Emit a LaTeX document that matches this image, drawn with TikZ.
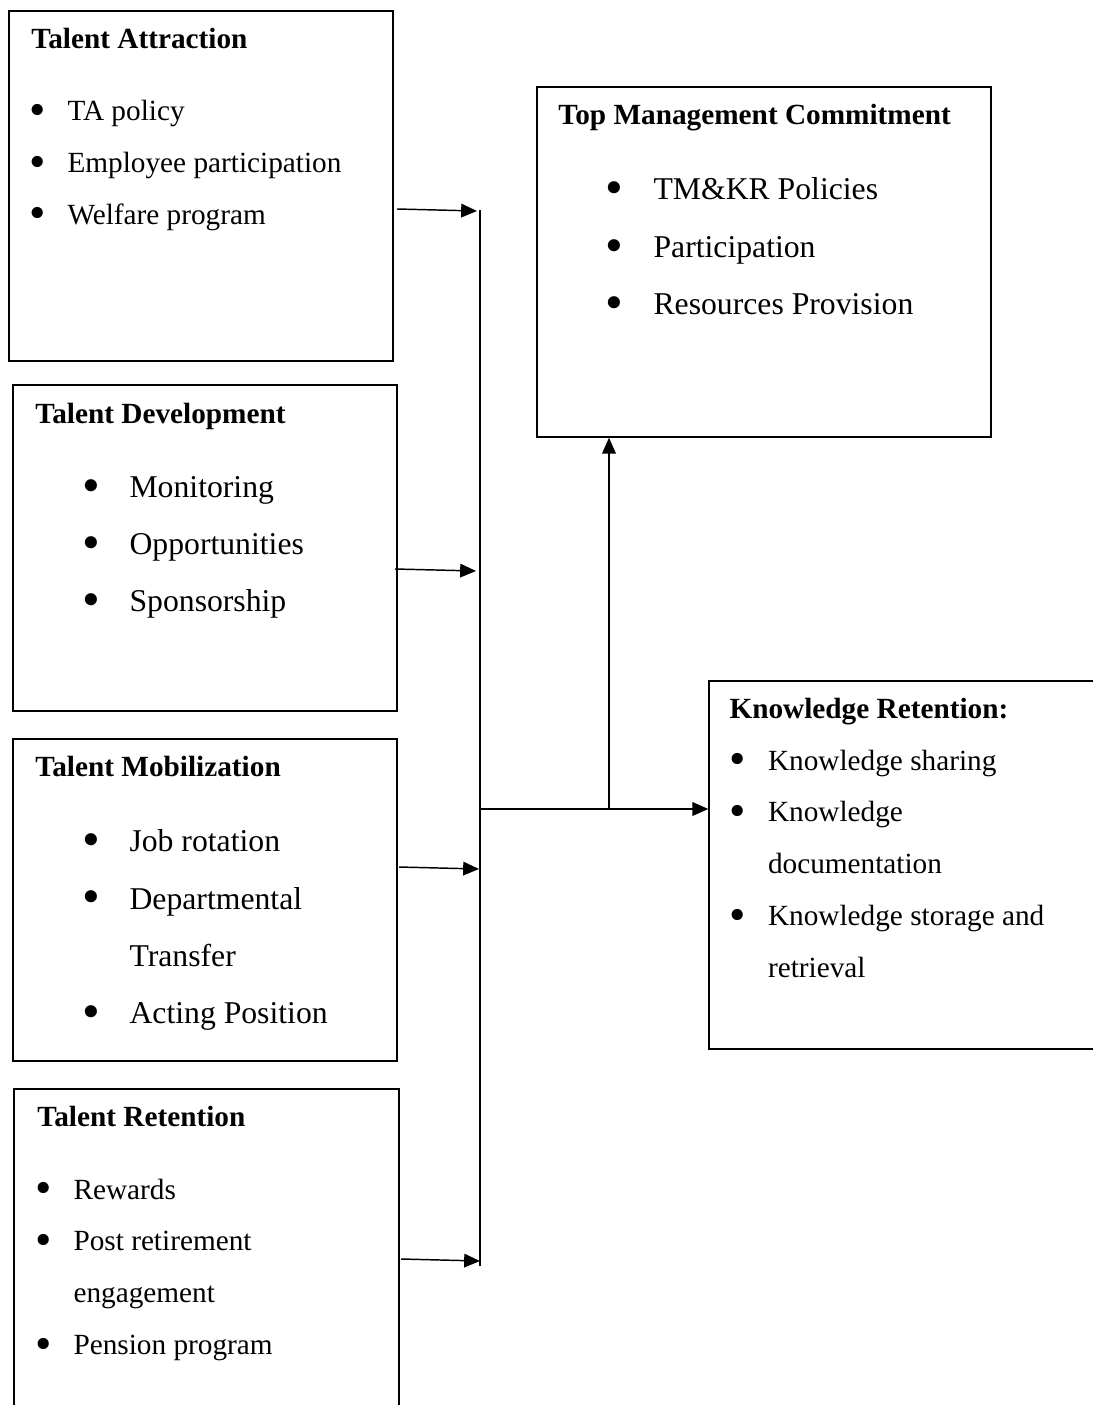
\documentclass[tikz,border=0pt]{standalone}
\usepackage{fontspec}
\usepackage{graphicx}
\setmainfont{Liberation Serif}
\usetikzlibrary{arrows.meta,fit,calc}

\newcommand{\bul}{\raisebox{-0.15em}{\scalebox{1.6}{\textbullet}}}
\newcommand{\itemlist}[2]{\begin{tabular}[t]{@{}p{#1}@{}l@{}}#2\end{tabular}}

\begin{document}
\begin{tikzpicture}[
    x=0.41pt,y=-0.41pt,
    box/.style={draw=black,line width=0.6pt,inner sep=0pt},
    title/.style={anchor=base west,inner sep=0pt,font=\fontsize{12}{14}\selectfont\bfseries},
    smalllist/.style={anchor=base west,inner sep=0pt,font=\fontsize{12}{21.3}\selectfont},
    biglist/.style={anchor=base west,inner sep=0pt,font=\fontsize{13}{23.5}\selectfont},
    line/.style={line width=0.6pt},
    arr/.style={-{Triangle[length=6.5pt,width=5.6pt]},line width=0.6pt}
  ]
    \useasboundingbox (0,0) rectangle (1092,1405);
    % left column
    \node[box,fit={(9,11) (393,361)}] (ta) {};
    \node[title] (ta-title) at (31,49) {Talent Attraction};
    \node[smalllist] (ta-list) at (29,120.7) {\itemlist{15.6pt}{\bul & TA policy\\ \bul & Employee participation\\ \bul & Welfare program}};

    \node[box,fit={(13,385) (397,711)}] (td) {};
    \node[title] (td-title) at (35,423) {Talent Development};
    \node[biglist] (td-list) at (82,497.3) {\itemlist{19.3pt}{\bul & Monitoring\\ \bul & Opportunities\\ \bul & Sponsorship}};

    \node[box,fit={(13,739) (397,1061)}] (tm) {};
    \node[title] (tm-title) at (35,776.7) {Talent Mobilization};
    \node[biglist] (tm-list) at (82,851.7) {\itemlist{19.3pt}{\bul & Job rotation\\ \bul & Departmental\\ & Transfer\\ \bul & Acting Position}};

    \node[box,fit={(14,1089) (399,1420)}] (tr) {};
    \node[title] (tr-title) at (37,1126.7) {Talent Retention};
    \node[smalllist] (tr-list) at (35,1199) {\itemlist{15.6pt}{\bul & Rewards\\ \bul & Post retirement\\ & engagement\\ \bul & Pension program}};

    % right column
    \node[box,fit={(537,87) (991,437)}] (tmc) {};
    \node[title] (tmc-title) at (558,124.3) {Top Management Commitment};
    \node[biglist] (tmc-list) at (605,200) {\itemlist{19.7pt}{\bul & TM\&KR Policies\\ \bul & Participation\\ \bul & Resources Provision}};

    \node[box,fit={(709,681) (1100,1049)}] (kr) {};
    \node[title] (kr-title) at (729,718.3) {Knowledge Retention:};
    \node[smalllist] (kr-list) at (729,770) {\itemlist{15.8pt}{\bul & Knowledge sharing\\ \bul & Knowledge\\ & documentation\\ \bul & Knowledge storage and\\ & retrieval}};

    % bus and joints
    \coordinate (bus-top) at (480,210);
    \coordinate (bus-bot) at (480,1266);
    \coordinate (joint) at (480,809);
    \coordinate (branch) at (609,809);
    \draw[line] (bus-top) -- (bus-bot);

    \coordinate (ta-out) at (397,209);
    \coordinate (td-out) at (395,569);
    \coordinate (tm-out) at (399,867);
    \coordinate (tr-out) at (401,1259);
    \draw[arr] (ta-out) -- (477,211);
    \draw[arr] (td-out) -- (476,571);
    \draw[arr] (tm-out) -- (479,869);
    \draw[arr] (tr-out) -- (480,1261);

    \draw[arr] (joint) -- (kr.west |- joint);
    \draw[arr] (branch) -- (tmc.south -| branch);
  \end{tikzpicture}
\end{document}
